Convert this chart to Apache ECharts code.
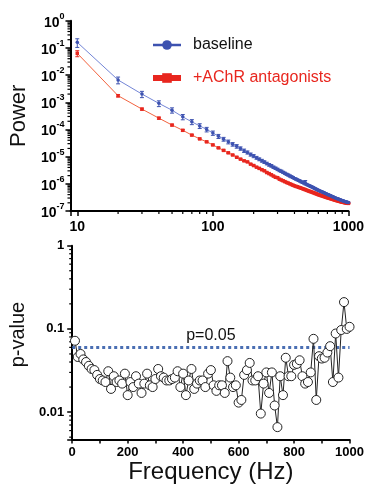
<!DOCTYPE html>
<html><head><meta charset="utf-8">
<script src="https://cdn.jsdelivr.net/npm/echarts@6/dist/echarts.min.js"></script>
<style>html,body{margin:0;padding:0;background:#fff}#c{width:367px;height:493px}</style>
</head><body><div id="c"></div>
<script>
// ---------- DATA ----------
const freqs = [10,20,30,40,50,60,70,80,90,100,110,120,130,140,150,160,170,180,190,200,
210,220,230,240,250,260,270,280,290,300,310,320,330,340,350,360,370,380,390,400,
410,420,430,440,450,460,470,480,490,500,510,520,530,540,550,560,570,580,590,600,
610,620,630,640,650,660,670,680,690,700,710,720,730,740,750,760,770,780,790,800,
810,820,830,840,850,860,870,880,890,900,910,920,930,940,950,960,970,980,990,1000];

const baseline = [1.6e-1,6.6e-3,2.0e-3,9.1e-4,5.1e-4,2.9e-4,1.9e-4,1.35e-4,1.0e-4,7.4e-5,
5.6e-5,4.4e-5,3.5e-5,2.85e-5,2.4e-5,2.0e-5,1.66e-5,1.43e-5,1.2e-5,1.05e-5,
9.1e-6,8.0e-6,7.1e-6,6.3e-6,5.6e-6,5.0e-6,4.6e-6,4.1e-6,3.75e-6,3.4e-6,
3.1e-6,2.9e-6,2.65e-6,2.45e-6,2.25e-6,2.1e-6,1.95e-6,1.82e-6,1.7e-6,1.58e-6,
1.49e-6,1.41e-6,1.32e-6,1.26e-6,1.18e-6,1.12e-6,1.07e-6,1.12e-6,9.6e-7,9.1e-7,
8.7e-7,8.3e-7,7.9e-7,7.6e-7,7.3e-7,6.9e-7,6.6e-7,6.3e-7,6.0e-7,5.75e-7,
5.55e-7,5.37e-7,5.2e-7,5.0e-7,4.85e-7,4.7e-7,4.5e-7,4.37e-7,4.2e-7,4.07e-7,
3.95e-7,3.84e-7,3.72e-7,3.61e-7,3.5e-7,3.4e-7,3.3e-7,3.2e-7,3.11e-7,3.02e-7,
2.95e-7,2.88e-7,2.82e-7,2.75e-7,2.69e-7,2.63e-7,2.57e-7,2.51e-7,2.46e-7,2.40e-7,
2.36e-7,2.32e-7,2.28e-7,2.25e-7,2.21e-7,2.18e-7,2.14e-7,2.11e-7,2.07e-7,2.04e-7];

const antagonist = [6.3e-2,1.74e-3,5.6e-4,2.6e-4,1.45e-4,9.3e-5,6.2e-5,4.5e-5,3.5e-5,2.7e-5,
2.1e-5,1.7e-5,1.38e-5,1.15e-5,9.5e-6,8.1e-6,7.0e-6,6.4e-6,5.3e-6,4.7e-6,
4.1e-6,3.7e-6,3.3e-6,3.0e-6,2.6e-6,2.37e-6,2.14e-6,1.93e-6,1.74e-6,1.68e-6,
1.48e-6,1.38e-6,1.29e-6,1.2e-6,1.12e-6,1.06e-6,1.0e-6,9.4e-7,8.9e-7,8.4e-7,
8.07e-7,7.76e-7,7.45e-7,7.16e-7,6.87e-7,6.6e-7,6.34e-7,6.1e-7,5.85e-7,5.62e-7,
5.43e-7,5.25e-7,5.07e-7,4.9e-7,4.73e-7,4.57e-7,4.42e-7,4.27e-7,4.13e-7,3.98e-7,
3.88e-7,3.78e-7,3.69e-7,3.6e-7,3.51e-7,3.42e-7,3.33e-7,3.25e-7,3.17e-7,3.09e-7,
3.03e-7,2.97e-7,2.91e-7,2.85e-7,2.79e-7,2.73e-7,2.68e-7,2.62e-7,2.57e-7,2.51e-7,
2.47e-7,2.43e-7,2.39e-7,2.35e-7,2.31e-7,2.27e-7,2.24e-7,2.2e-7,2.17e-7,2.14e-7,
2.11e-7,2.09e-7,2.06e-7,2.04e-7,2.02e-7,2.0e-7,1.97e-7,1.95e-7,1.93e-7,1.91e-7];

// relative SEM (%) for each point
const baselineSemPct = [35,28,26,24,22,22,21,20,19,18,17,16,16,15,15,14,14,13,13,13,
12,12,12,11,11,11,11,10,10,10,10,10,9,9,9,9,9,9,8,8,
8,8,8,8,8,8,8,18,8,7,7,7,7,7,7,7,7,7,7,7,
6,6,6,6,6,6,6,6,6,6,6,5,5,5,5,5,5,5,5,5,
5,5,5,5,5,5,4,4,4,4,4,4,4,4,4,4,4,4,4,4];
const antagonistSemPct = [25,10,8,8,7,7,6,6,6,6,5,5,5,5,5,5,5,5,5,5,
5,5,5,5,5,5,5,5,5,5,4,4,4,4,4,4,4,4,4,4,
4,4,4,4,4,4,4,4,4,4,4,4,4,4,4,4,4,4,4,4,
3,3,3,3,3,3,3,3,3,3,3,3,3,3,3,3,3,3,3,3,
3,3,3,3,3,3,3,3,3,3,3,3,3,3,3,3,3,3,3,3];

const pValues = [0.072,0.046,0.050,0.043,0.040,0.036,0.033,0.032,0.028,0.025,
0.024,0.023,0.031,0.019,0.027,0.023,0.024,0.022,0.029,0.016,
0.023,0.020,0.027,0.022,0.017,0.022,0.029,0.021,0.020,0.025,
0.033,0.027,0.026,0.024,0.024,0.025,0.026,0.031,0.020,0.029,
0.016,0.024,0.033,0.019,0.022,0.024,0.024,0.020,0.029,0.032,
0.021,0.018,0.021,0.021,0.017,0.041,0.026,0.020,0.021,0.013,
0.014,0.028,0.032,0.039,0.024,0.024,0.027,0.0096,0.022,0.030,
0.017,0.030,0.012,0.0066,0.027,0.016,0.045,0.027,0.027,0.037,
0.038,0.042,0.027,0.022,0.023,0.030,0.076,0.014,0.047,0.044,
0.045,0.052,0.062,0.023,0.088,0.026,0.097,0.21,0.10,0.106];

const pThreshold = 0.058;          // dotted line position as drawn
const pThresholdLabel = 'p=0.05';

const topXLabels = [10,100,1000];
const topXMinorTicks = [20,30,40,50,60,70,80,90,200,300,400,500,600,700,800,900];
const topYMin = 1e-7, topYMax = 1;
const botYLabels = [0.01,0.1,1];
const botYMin = 0.0047, botYMax = 1;
const botXTicks = [0,200,400,600,800,1000];

// ---------- BUILD ----------
const FONT = "'Liberation Sans', Arial, sans-serif";
const topXMin = 8.91;
function decadeMinors(lo, hi) {
  const out = [];
  for (let k = lo; k < hi; k++) for (let m = 2; m <= 9; m++) out.push(m * Math.pow(10, k));
  return out;
}
const topYMinor = decadeMinors(-7, 0);
const botYMinor = [5e-3,6e-3,7e-3,8e-3,9e-3].concat(decadeMinors(-2, 0));

function isDecade(v){ const l = Math.log10(v); return Math.abs(l - Math.round(l)) < 1e-6; }

function tickItem(dir, len) {
  return function (params, api) {
    const p = api.coord([api.value(0), api.value(1)]);
    const dx = dir === 'x' ? 0 : -len, dy = dir === 'x' ? len : 0;
    return { type: 'line', shape: { x1: p[0], y1: p[1], x2: p[0] + dx, y2: p[1] + dy },
      style: { stroke: '#000', lineWidth: 1.2 } };
  };
}
function errItem(color) {
  return function (params, api) {
    const x = api.value(0), lo = api.value(1), hi = api.value(2);
    const a = api.coord([x, hi]), b = api.coord([x, lo]);
    const w = 2;
    const st = { stroke: color, lineWidth: 1 };
    return { type: 'group', children: [
      { type: 'line', shape: { x1: a[0], y1: a[1], x2: b[0], y2: b[1] }, style: st },
      { type: 'line', shape: { x1: a[0]-w, y1: a[1], x2: a[0]+w, y2: a[1] }, style: st },
      { type: 'line', shape: { x1: b[0]-w, y1: b[1], x2: b[0]+w, y2: b[1] }, style: st }
    ]};
  };
}

const BLUE = '#3d52b0', BLUE_LINE = '#7385d6', RED = '#e8261e', RED_LINE = '#f2623e';

const option = {
  animation: false,
  textStyle: { fontFamily: FONT },
  grid: [
    { left: 63, top: 20.7, width: 287, height: 190.3 },
    { left: 62, top: 245.7, width: 288, height: 193.7 }
  ],
  legend: {
    orient: 'vertical', left: 150, top: 37, padding: 0, itemWidth: 28, itemHeight: 12, itemGap: 17,
    textStyle: { fontSize: 16, color: '#111', fontFamily: FONT, padding: [0,0,0,7] },
    data: [
      { name: 'baseline', lineStyle: { width: 2.5, color: BLUE }, itemStyle: { color: BLUE } },
      { name: '+AChR antagonists', lineStyle: { width: 6, color: RED }, itemStyle: { color: RED },
        textStyle: { color: RED } }
    ]
  },
  xAxis: [
    { type: 'log', gridIndex: 0, min: topXMin, max: 1000, logBase: 10,
      axisLine: { lineStyle: { color: '#000', width: 2 } },
      axisTick: { length: 5, lineStyle: { color: '#000', width: 1.5 } },
      splitLine: { show: false },
      axisLabel: { fontSize: 14, fontWeight: 'bold', color: '#000', margin: 9,
        formatter: v => (isDecade(v) && topXLabels.indexOf(Math.round(v)) >= 0) ? String(Math.round(v)) : '' } },
    { type: 'value', gridIndex: 1, min: 0, max: 1000, interval: 100,
      axisLine: { lineStyle: { color: '#000', width: 2 } },
      axisTick: { length: 4, lineStyle: { color: '#000', width: 1.5 } },
      splitLine: { show: false },
      axisLabel: { fontSize: 13, fontWeight: 'bold', color: '#000', margin: 7,
        formatter: v => botXTicks.indexOf(v) >= 0 ? String(v) : '' },
      name: 'Frequency (Hz)', nameLocation: 'middle', nameGap: 10,
      nameTextStyle: { fontSize: 24, color: '#111', fontFamily: FONT } }
  ],
  yAxis: [
    { type: 'log', gridIndex: 0, min: topYMin, max: topYMax, logBase: 10,
      axisLine: { show: true, lineStyle: { color: '#000', width: 2 } },
      axisTick: { show: true, length: 5, lineStyle: { color: '#000', width: 1.5 } },
      splitLine: { show: false },
      axisLabel: { margin: 6, color: '#000',
        formatter: v => isDecade(v) ? '{b|10}{s|' + Math.round(Math.log10(v)) + '}' : '',
        rich: { b: { fontSize: 14, fontWeight: 'bold', fontFamily: FONT, color: '#000', lineHeight: 18, verticalAlign: 'bottom' },
                s: { fontSize: 9, fontWeight: 'bold', fontFamily: FONT, color: '#000', lineHeight: 18, verticalAlign: 'top' } } },
      name: 'Power', nameLocation: 'middle', nameGap: 34,
      nameTextStyle: { fontSize: 22, color: '#111', fontFamily: FONT } },
    { type: 'log', gridIndex: 1, min: botYMin, max: botYMax, logBase: 10,
      axisLine: { show: true, lineStyle: { color: '#000', width: 2 } },
      axisTick: { show: true, length: 5, lineStyle: { color: '#000', width: 1.5 } },
      splitLine: { show: false },
      axisLabel: { fontSize: 13, fontWeight: 'bold', color: '#000', margin: 8,
        formatter: v => { if (!isDecade(v)) return ''; const r = Math.pow(10, Math.round(Math.log10(v)));
          const i = botYLabels.findIndex(x => Math.abs(x - r) < 1e-9); return i >= 0 ? String(botYLabels[i]) : ''; } },
      name: 'p-value', nameLocation: 'middle', nameGap: 30,
      nameTextStyle: { fontSize: 20, color: '#111', fontFamily: FONT, padding: [0, 0, 0, 16] } }
  ],
  series: [
    { type: 'custom', xAxisIndex: 0, yAxisIndex: 0, clip: false, silent: true, z: 1,
      renderItem: errItem(BLUE),
      data: freqs.map((f, i) => [f, baseline[i] * (1 - baselineSemPct[i] / 100), baseline[i] * (1 + baselineSemPct[i] / 100)]) },
    { type: 'custom', xAxisIndex: 0, yAxisIndex: 0, clip: false, silent: true, z: 1,
      renderItem: errItem(RED),
      data: freqs.map((f, i) => [f, antagonist[i] * (1 - antagonistSemPct[i] / 100), antagonist[i] * (1 + antagonistSemPct[i] / 100)]) },
    { name: 'baseline', type: 'line', xAxisIndex: 0, yAxisIndex: 0, z: 3,
      data: freqs.map((f, i) => [f, baseline[i]]),
      symbol: 'circle', symbolSize: 3.5, itemStyle: { color: BLUE },
      lineStyle: { color: BLUE_LINE, width: 1 } },
    { name: '+AChR antagonists', type: 'line', xAxisIndex: 0, yAxisIndex: 0, z: 2,
      data: freqs.map((f, i) => [f, antagonist[i]]),
      symbol: 'rect', symbolSize: 3.5, itemStyle: { color: RED },
      lineStyle: { color: RED_LINE, width: 1 } },
    { type: 'line', xAxisIndex: 1, yAxisIndex: 1, z: 3,
      data: freqs.map((f, i) => [f, pValues[i]]),
      symbol: 'circle', symbolSize: 9, showAllSymbol: true,
      itemStyle: { color: '#fff', borderColor: '#222', borderWidth: 1 },
      lineStyle: { color: '#222', width: 1 },
      markLine: { silent: true, symbol: 'none', z: 2,
        lineStyle: { type: [3, 3], width: 3, color: '#4a6fb3' },
        label: { show: true, position: 'insideMiddleTop', formatter: pThresholdLabel, fontSize: 16, color: '#111', fontFamily: FONT, distance: 4 },
        data: [{ yAxis: pThreshold }] } },
    // minor ticks
    { type: 'custom', xAxisIndex: 0, yAxisIndex: 0, clip: false, silent: true,
      renderItem: tickItem('x', 3), data: topXMinorTicks.map(v => [v, topYMin]) },
    { type: 'custom', xAxisIndex: 0, yAxisIndex: 0, clip: false, silent: true,
      renderItem: tickItem('y', 3), data: topYMinor.map(v => [topXMin, v]) },
    { type: 'custom', xAxisIndex: 1, yAxisIndex: 1, clip: false, silent: true,
      renderItem: tickItem('y', 3), data: botYMinor.map(v => [0, v]) }
  ]
};
const chart = echarts.init(document.getElementById('c'), null, { renderer: 'canvas' });
chart.setOption(option);
</script>
</body></html>
